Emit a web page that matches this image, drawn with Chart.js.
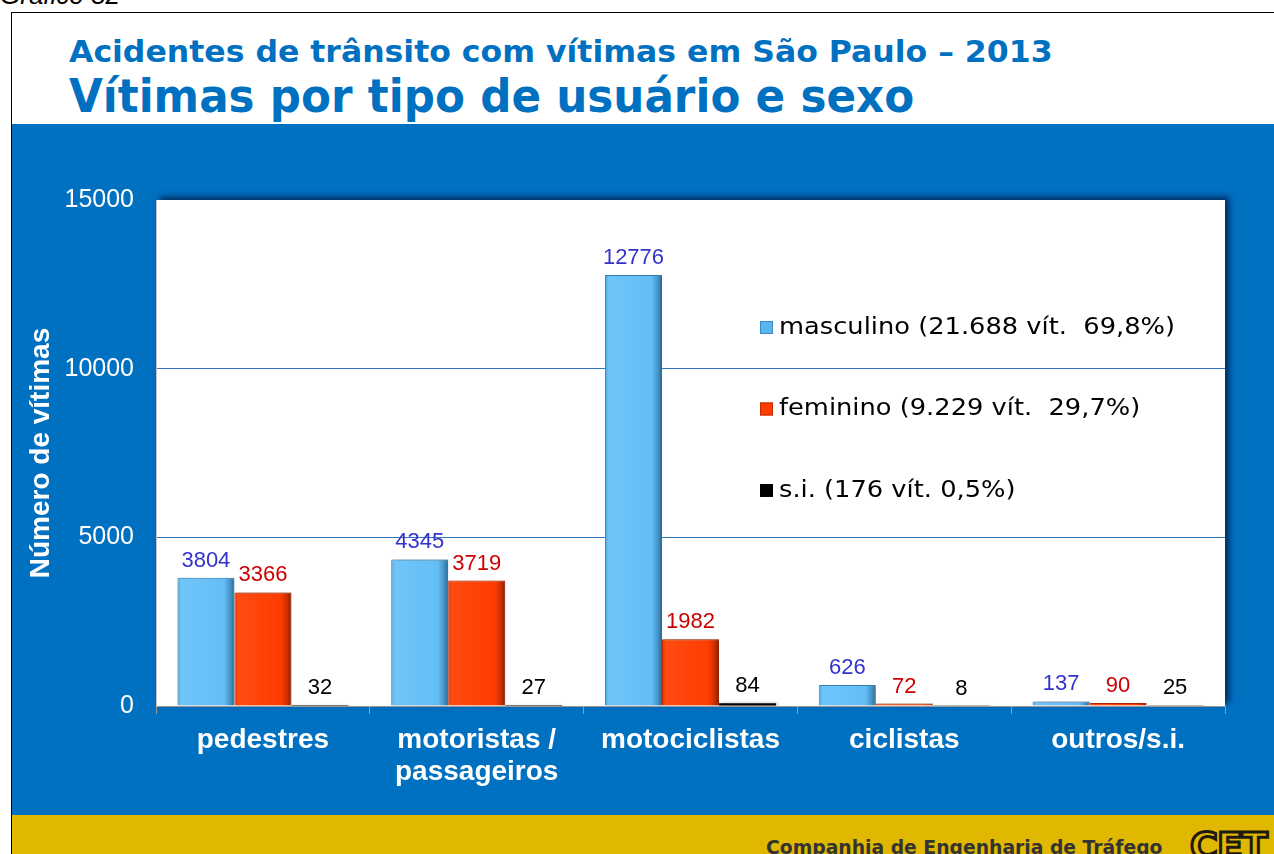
<!DOCTYPE html>
<html lang="pt-BR">
<head>
<meta charset="utf-8">
<title>Vítimas por tipo de usuário e sexo</title>
<script src="https://cdn.jsdelivr.net/npm/chart.js@4.4.0/dist/chart.umd.min.js"></script>
<style>
  html, body { margin: 0; padding: 0; }
  body { width: 1274px; height: 854px; overflow: hidden; background: #fff; position: relative; font-family: "Liberation Sans", Arial, sans-serif; }
  .grafico { position: absolute; left: 0px; top: -18px; font: italic 26px/1 "Liberation Sans", Arial, sans-serif; color: #000; }
  .moldura { position: absolute; left: 11px; top: 12px; width: 1300px; height: 900px; border-left: 1px solid #000; border-top: 1px solid #000; }
  .titulo { position: absolute; left: 69px; color: #0070c0; font-family: "DejaVu Sans", Verdana, sans-serif; font-weight: bold; line-height: 1; white-space: nowrap; transform-origin: 0 0; }
  #t1 { top: 36px; font-size: 31px; }
  #t2 { top: 73px; font-size: 46px; }
  .faixa { position: absolute; left: 12px; top: 124px; width: 1262px; height: 691px; background: #0070c0; }
  .rodape { position: absolute; left: 12px; top: 815px; width: 1262px; height: 60px; background: #e1b800; }
  #empresa { position: absolute; left: 766px; top: 838px; font: bold 19px/1 "DejaVu Sans", Verdana, sans-serif; color: #333; white-space: nowrap; transform-origin: 0 0; }
  #logo { position: absolute; left: 1190px; top: 827px; font: bold 38px/1 "DejaVu Sans", Verdana, sans-serif; color: #e1b800; -webkit-text-stroke: 3px #1e1a10; letter-spacing: -1px; }
</style>
</head>
<body>
<div class="grafico">Gráfico 32</div>
<div class="moldura"></div>
<div class="titulo" id="t1">Acidentes de trânsito com vítimas em São Paulo – 2013</div>
<div class="titulo" id="t2">Vítimas por tipo de usuário e sexo</div>
<div class="faixa"><canvas id="grafico"></canvas></div>
<div class="rodape"></div>
<div id="empresa">Companhia de Engenharia de Tráfego</div>
<div id="logo">CET</div>
<script>
// dados: vítimas de acidentes de trânsito em São Paulo, 2013
const categorias = ['pedestres', ['motoristas /', 'passageiros'], 'motociclistas', 'ciclistas', 'outros/s.i.'];
const masculino = [3804, 4345, 12776, 626, 137];
const feminino = [3366, 3719, 1982, 72, 90];
const semInfo = [32, 27, 84, 8, 25];
const legendas = ['masculino (21.688 vít.  69,8%)', 'feminino (9.229 vít.  29,7%)', 's.i. (176 vít. 0,5%)'];
const eixoY = [0, 5000, 10000, 15000];

// ajusta a largura dos textos do cabeçalho
function ajusta(id, largura) {
    var el = document.getElementById(id);
    el.style.transform = 'scaleX(' + (largura / el.offsetWidth) + ')';
}
ajusta('t1', 984);
ajusta('t2', 845);
ajusta('empresa', 396);

const fonte = '"Liberation Sans", Arial, sans-serif';

// tons do degradê horizontal de cada série (efeito 3D)
const tons = [
    ['#4aa6e2', '#70c6fa', '#64bdf5', '#4592c6', '#2a6890'],
    ['#e03600', '#ff4c12', '#ff3c00', '#c82d00', '#842000'],
    null
];

// fundo branco da área do gráfico com sombra
const fundo = {
    id: 'fundo',
    beforeDraw(chart) {
        const a = chart.chartArea, ctx = chart.ctx;
        ctx.save();
        ctx.shadowColor = 'rgba(0, 20, 60, 0.75)';
        ctx.shadowBlur = 6;
        ctx.shadowOffsetX = 4;
        ctx.shadowOffsetY = -3;
        ctx.fillStyle = '#ffffff';
        ctx.fillRect(a.left, a.top, a.right - a.left, a.bottom - a.top);
        ctx.restore();
    }
};

// degradê e sombra das barras, depois os rótulos de valor
const rotulos = {
    id: 'rotulos',
    beforeDatasetsDraw(chart) {
        const ctx = chart.ctx;
        chart.data.datasets.forEach(function(ds, i) {
            const t = tons[i];
            if (!t) return;
            chart.getDatasetMeta(i).data.forEach(function(bar) {
                const x0 = bar.x - bar.width / 2, x1 = bar.x + bar.width / 2;
                const g = ctx.createLinearGradient(x0, 0, x1, 0);
                g.addColorStop(0, t[0]);
                g.addColorStop(0.07, t[1]);
                g.addColorStop(0.82, t[2]);
                g.addColorStop(0.93, t[3]);
                g.addColorStop(1, t[4]);
                bar.options.backgroundColor = g;
            });
        });
        ctx.save();
        ctx.shadowColor = 'rgba(0, 0, 0, 0.35)';
        ctx.shadowBlur = 3;
        ctx.shadowOffsetX = 2;
    },
    afterDatasetsDraw(chart) {
        const ctx = chart.ctx;
        ctx.restore();
        ctx.save();
        ctx.font = '22px ' + fonte;
        ctx.textAlign = 'center';
        ctx.textBaseline = 'alphabetic';
        chart.data.datasets.forEach(function(ds, i) {
            chart.getDatasetMeta(i).data.forEach(function(bar, j) {
                ctx.fillStyle = ds.corRotulo;
                ctx.fillText(String(ds.data[j]), bar.x, bar.y - 11);
            });
        });
        ctx.restore();
    }
};

// legenda dentro da área do gráfico
const legenda = {
    id: 'legenda',
    afterDraw(chart) {
        const a = chart.chartArea, ctx = chart.ctx;
        const x = a.left + 604;
        ctx.save();
        ctx.font = '23px "DejaVu Sans", Verdana, sans-serif';
        ctx.textBaseline = 'middle';
        // texto um pouco mais largo, como na fonte Verdana
        const k = 396 / ctx.measureText(chart.data.datasets[0].label).width;
        chart.data.datasets.forEach(function(ds, i) {
            const y = a.top + 127 + i * 81.5;
            ctx.fillStyle = ds.cor;
            ctx.fillRect(x, y - 6, 13, 13);
            ctx.strokeStyle = ds.borderColor;
            ctx.lineWidth = 1;
            ctx.strokeRect(x + 0.5, y - 5.5, 12, 12);
            ctx.save();
            ctx.translate(x + 19, y + 1);
            ctx.scale(k, 1);
            ctx.fillStyle = '#000';
            ctx.fillText(ds.label, 0, 0);
            ctx.restore();
        });
        ctx.restore();
    }
};

// cor escriptável: cada barra fica com seu próprio objeto de opções
function corFixa(cor) {
    return function() { return cor; };
}

new Chart(document.getElementById('grafico'), {
    type: 'bar',
    data: {
        labels: categorias,
        datasets: [
            { label: legendas[0], data: masculino, cor: '#5cb6ee', backgroundColor: corFixa('#64bdf5'), borderColor: '#3a8cc4', borderWidth: 1, corRotulo: '#3333cc' },
            { label: legendas[1], data: feminino, cor: '#ff3d00', backgroundColor: corFixa('#ff3c00'), borderColor: '#c22d00', borderWidth: 1, corRotulo: '#cc0000' },
            { label: legendas[2], data: semInfo, cor: '#000000', backgroundColor: '#000000', borderColor: '#000000', borderWidth: 0, corRotulo: '#000000' }
        ]
    },
    options: {
        responsive: true,
        maintainAspectRatio: false,
        animation: false,
        datasets: { bar: { categoryPercentage: 0.8, barPercentage: 1.0 } },
        layout: { padding: { left: 0, top: 76, right: 49, bottom: 0 } },
        plugins: {
            legend: { display: false },
            tooltip: { enabled: false }
        },
        scales: {
            x: {
                afterFit: function(s) { s.height = 109; },
                grid: { offset: true, drawOnChartArea: false, drawTicks: true, tickLength: 8, color: '#9a9a9a' },
                border: { display: true, color: '#9a9a9a' },
                ticks: { color: '#ffffff', padding: 10, maxRotation: 0, autoSkip: false,
                         font: { family: fonte, size: 28, weight: 'bold', lineHeight: 1.15 } }
            },
            y: {
                min: 0,
                max: 15000,
                afterFit: function(s) { s.width = 144; },
                afterBuildTicks: function(s) { s.ticks = eixoY.map(function(v) { return { value: v }; }); },
                grid: {
                    drawTicks: false,
                    color: function(c) { return (c.tick && c.tick.value > 0 && c.tick.value < 15000) ? '#2f78c0' : 'rgba(0,0,0,0)'; }
                },
                border: { display: true, color: '#c4c4c4' },
                ticks: { color: '#ffffff', padding: 22, font: { family: fonte, size: 25 },
                         callback: function(v) { return String(v); } },
                title: { display: true, text: 'Número de vítimas', color: '#ffffff', padding: { top: 12, bottom: 0 },
                         font: { family: fonte, size: 28, weight: 'bold', lineHeight: 1.2 } }
            }
        }
    },
    plugins: [fundo, rotulos, legenda]
});
</script>
</body>
</html>
